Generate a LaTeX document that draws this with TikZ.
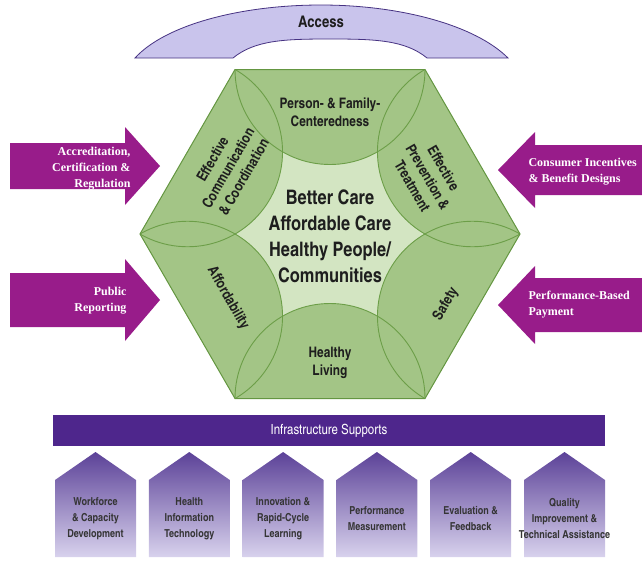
\documentclass[tikz,border=0pt]{standalone}
\usepackage{fontspec}
\setmainfont{Liberation Serif}
\newfontfamily\condfont{texgyreheroscn}[Extension=.otf, UprightFont=*-regular, BoldFont=*-bold]
\usepackage{xcolor}
\usepackage{tikz}
\usetikzlibrary{positioning}

\definecolor{petalgreen}{RGB}{163,197,134}
\definecolor{coregreen}{RGB}{211,229,194}
\definecolor{linegreen}{RGB}{108,158,72}
\definecolor{edgegreen}{RGB}{100,150,65}
\definecolor{arrowpurple}{RGB}{152,28,138}
\definecolor{barpurple}{RGB}{78,38,140}
\definecolor{accessfill}{RGB}{201,196,236}
\definecolor{accessline}{RGB}{70,50,130}
\definecolor{housetop}{RGB}{92,66,152}
\definecolor{housemid}{RGB}{198,192,228}
\definecolor{housebot}{RGB}{216,210,237}
\definecolor{inktext}{RGB}{30,30,30}

\tikzset{
  petal/.style={font=\condfont\bfseries\fontsize{14.5}{18}\selectfont, text=inktext, align=center, inner sep=1pt},
  aims/.style={font=\condfont\bfseries\fontsize{20}{26}\selectfont, text=inktext, align=center},
  lever/.style={font=\bfseries\fontsize{12}{16}\selectfont, text=white},
  support/.style={font=\condfont\bfseries\fontsize{11}{16}\selectfont, text=inktext!90, align=center},
}

\begin{document}
\begin{tikzpicture}[x=1pt, y=-1pt]
\useasboundingbox (0,0) rectangle (642,560);
% access arc
\filldraw[fill=accessfill, draw=accessline, line width=0.8pt]
  (135,58) .. controls (165,25) and (240,5) .. (321,5)
  .. controls (400,5) and (475,25) .. (508,58) -- (427,58)
  .. controls (405,40) and (375,39) .. (330,39)
  .. controls (285,39) and (255,40) .. (233,58) -- cycle;
\node[font=\condfont\bfseries\fontsize{16}{18}\selectfont, text=inktext] (access) at (321,22) {Access};

% hexagon with petals
\coordinate (hc) at (330,234);
\path (520,234) coordinate (v0) (425,69.5) coordinate (v1) (235,69.5) coordinate (v2)
      (140,234) coordinate (v3) (235,398.5) coordinate (v4) (425,398.5) coordinate (v5);
\fill[coregreen] (v0) -- (v1) -- (v2) -- (v3) -- (v4) -- (v5) -- cycle;
\begin{scope}
  \clip (v0) -- (v1) -- (v2) -- (v3) -- (v4) -- (v5) -- cycle;
  \foreach \a in {30,90,...,330}
    \fill[petalgreen] (hc) ++(\a:164.5) circle[radius=95pt];
  \foreach \a in {30,90,...,330}
    \draw[linegreen, line width=0.9pt] (hc) ++(\a:164.5) circle[radius=95pt];
\end{scope}
\draw[edgegreen, line width=1pt] (v0) -- (v1) -- (v2) -- (v3) -- (v4) -- (v5) -- cycle;

\node[petal] (person) at (330,112) {Person- \& Family-\\Centeredness};
\node[petal, rotate=60] (communication) at (228,168) {Effective\\Communication\\\& Coordination};
\node[petal, rotate=-60] (prevention) at (428,177) {Effective\\Prevention \&\\Treatment};
\node[petal, rotate=-60] (affordability) at (228,298) {Affordability};
\node[petal, rotate=60] (safety) at (446,304) {Safety};
\node[petal] (living) at (330,363) {Healthy\\Living};
\node[aims] (aims) at (330,236) {Better Care\\Affordable Care\\Healthy People/\\Communities};

% levers
\foreach \cy/\bh/\hh in {166/23/39, 300/27/41}
  \fill[arrowpurple] (10,\cy-\bh) -- (125,\cy-\bh) -- (125,\cy-\hh) -- (160,\cy)
    -- (125,\cy+\hh) -- (125,\cy+\bh) -- (10,\cy+\bh) -- cycle;
\foreach \cy/\bh/\hh in {170/25/38, 305/27/39}
  \fill[arrowpurple] (642,\cy-\bh) -- (535,\cy-\bh) -- (535,\cy-\hh) -- (498,\cy)
    -- (535,\cy+\hh) -- (535,\cy+\bh) -- (642,\cy+\bh) -- cycle;
\node[lever, align=right, anchor=east] (accreditation) at (134,169) {Accreditation,\\Certification \&\\Regulation};
\node[lever, align=right, anchor=east] (reporting) at (130,301) {Public\\Reporting};
\node[lever, align=left, anchor=west] (incentives) at (525,172) {Consumer Incentives\\\& Benefit Designs};
\node[lever, align=left, anchor=west] (payment) at (525,305) {Performance-Based\\Payment};

% infrastructure
\fill[barpurple] (53,415) rectangle (605,446);
\node[font=\condfont\fontsize{14}{16}\selectfont, text=white] (infra) at (329,431) {Infrastructure Supports};
\foreach \lbl [count=\i from 0] in {{Workforce\\\& Capacity\\Development}, {Health\\Information\\Technology},
    {Innovation \&\\Rapid-Cycle\\Learning}, {Performance\\Measurement}, {Evaluation \&\\Feedback},
    {Quality\\Improvement \&\\Technical Assistance}} {
  \pgfmathsetmacro\xl{55+93.8*\i}
  \shade[top color=housetop, middle color=housemid, bottom color=housebot]
    (\xl,557) -- (\xl,480) -- (\xl+40.5,452) -- (\xl+81,480) -- (\xl+81,557) -- cycle;
  \node[support] (support\i) at (\xl+40.5,519) {\lbl};
}
\end{tikzpicture}
\end{document}
